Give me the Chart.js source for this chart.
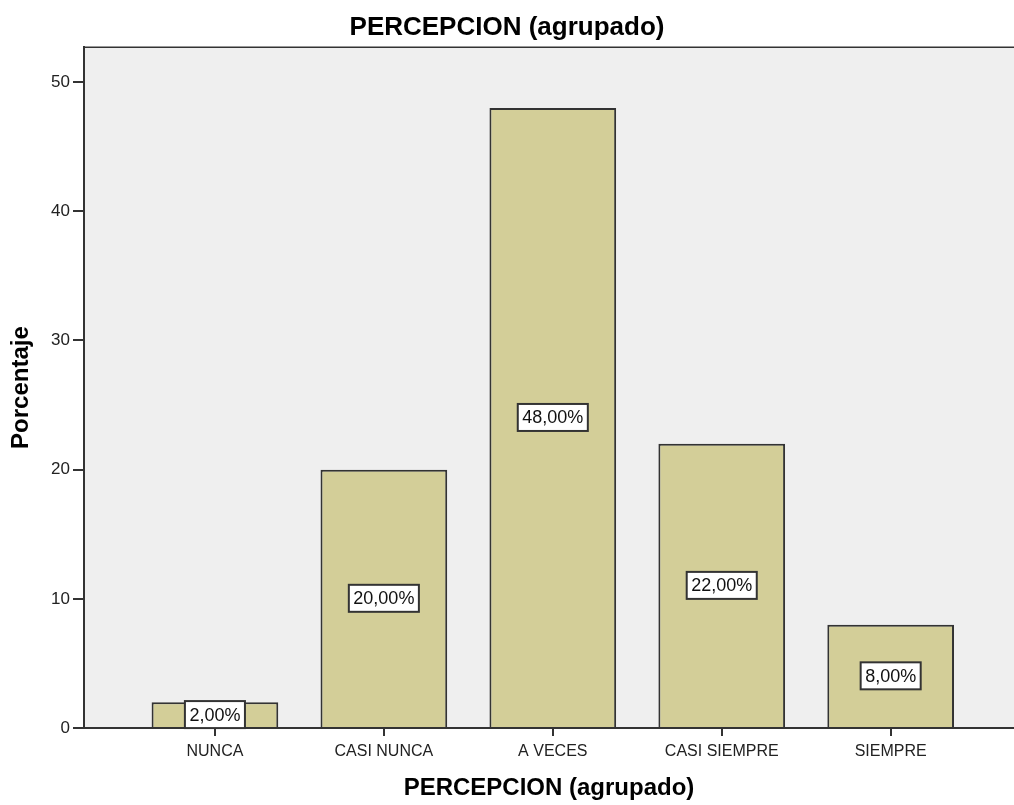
<!DOCTYPE html>
<html>
<head>
<meta charset="utf-8">
<script src="https://cdn.jsdelivr.net/npm/chart.js@4"></script>
<style>
  html, body { margin: 0; padding: 0; background: #fff; }
  #wrap { width: 1014px; height: 805px; }
</style>
</head>
<body>
<div id="wrap"><canvas id="myChart" width="1014" height="805"></canvas></div>
<script>
const categories = ['NUNCA', 'CASI NUNCA', 'A VECES', 'CASI SIEMPRE', 'SIEMPRE'];
const percentages = [2, 20, 48, 22, 8];
const yTicks = [0, 10, 20, 30, 40, 50];

const fontFamily = '"Liberation Sans", Arial, sans-serif';
const lineColor = '#333';

// grey plot background plus the frame line along the top
const plotFrame = {
    id: 'plotFrame',
    beforeDraw: function(chart) {
        var ctx = chart.ctx;
        var a = chart.chartArea;
        ctx.save();
        ctx.fillStyle = '#efefef';
        ctx.fillRect(a.left, a.top, a.right - a.left, a.bottom - a.top);
        ctx.restore();
    },
    afterDraw: function(chart) {
        var ctx = chart.ctx;
        var a = chart.chartArea;
        ctx.save();
        ctx.strokeStyle = lineColor;
        ctx.lineWidth = 1.5;
        ctx.beginPath();
        ctx.moveTo(a.left, a.top);
        ctx.lineTo(a.right, a.top);
        ctx.stroke();
        ctx.restore();
    }
};

// boxed percentage label in the middle of each bar
const barLabels = {
    id: 'barLabels',
    afterDatasetsDraw: function(chart) {
        var ctx = chart.ctx;
        var meta = chart.getDatasetMeta(0);
        ctx.save();
        ctx.font = '18px ' + fontFamily;
        ctx.textAlign = 'center';
        ctx.textBaseline = 'middle';
        meta.data.forEach(function(bar, i) {
            var text = percentages[i].toFixed(2).replace('.', ',') + '%';
            var w = ctx.measureText(text).width + 9;
            var h = 27;
            var cx = bar.x;
            var cy = (bar.y + bar.base) / 2;
            ctx.fillStyle = '#fff';
            ctx.fillRect(cx - w / 2, cy - h / 2, w, h);
            ctx.strokeStyle = lineColor;
            ctx.lineWidth = 2;
            ctx.strokeRect(cx - w / 2, cy - h / 2, w, h);
            ctx.fillStyle = '#111';
            ctx.fillText(text, cx, cy + 1);
        });
        ctx.restore();
    }
};

var ctx = document.getElementById('myChart');
var myChart = new Chart(ctx, {
    type: 'bar',
    data: {
        datasets: [{
            data: percentages.map((v, i) => ({ x: i, y: v })),
            backgroundColor: '#d3ce98',
            borderColor: lineColor,
            borderWidth: 2,
            barPercentage: 0.75,
            categoryPercentage: 1
        }]
    },
    options: {
        responsive: false,
        animation: false,
        layout: { padding: 0 },
        plugins: {
            legend: { display: false },
            tooltip: { enabled: false },
            title: {
                display: true,
                text: 'PERCEPCION (agrupado)',
                color: '#000',
                font: { family: fontFamily, size: 26, weight: 'bold', lineHeight: 1.2 },
                padding: { top: 12, bottom: 4 }
            }
        },
        scales: {
            x: {
                type: 'linear',
                min: -0.775,
                max: 4.73,
                offset: false,
                afterBuildTicks: function(scale) {
                    scale.ticks = categories.map((c, i) => ({ value: i }));
                },
                afterFit: function(scale) { scale.height = 77; },
                ticks: {
                    color: '#222',
                    font: { family: fontFamily, size: 16 },
                    padding: 6,
                    maxRotation: 0,
                    callback: function(value) { return categories[value]; }
                },
                grid: {
                    offset: false,
                    drawOnChartArea: false,
                    tickLength: 8,
                    color: lineColor,
                    lineWidth: 2
                },
                border: { display: true, color: lineColor, width: 2 },
                title: {
                    display: true,
                    text: 'PERCEPCION (agrupado)',
                    color: '#000',
                    font: { family: fontFamily, size: 24, weight: 'bold', lineHeight: 1.2 },
                    padding: { top: 0, bottom: 2 }
                }
            },
            y: {
                min: 0,
                max: 52.7,
                afterBuildTicks: function(scale) {
                    scale.ticks = yTicks.map(v => ({ value: v }));
                },
                afterFit: function(scale) { scale.width = 84; },
                ticks: {
                    color: '#222',
                    font: { family: fontFamily, size: 17 },
                    padding: 3
                },
                grid: {
                    drawOnChartArea: false,
                    tickLength: 11,
                    color: lineColor,
                    lineWidth: 2
                },
                border: { display: true, color: lineColor, width: 2 },
                title: {
                    display: true,
                    text: 'Porcentaje',
                    color: '#000',
                    font: { family: fontFamily, size: 24, weight: 'bold', lineHeight: 1.2 },
                    padding: { top: 7, bottom: 0 }
                }
            }
        }
    },
    plugins: [plotFrame, barLabels]
});
</script>
</body>
</html>
